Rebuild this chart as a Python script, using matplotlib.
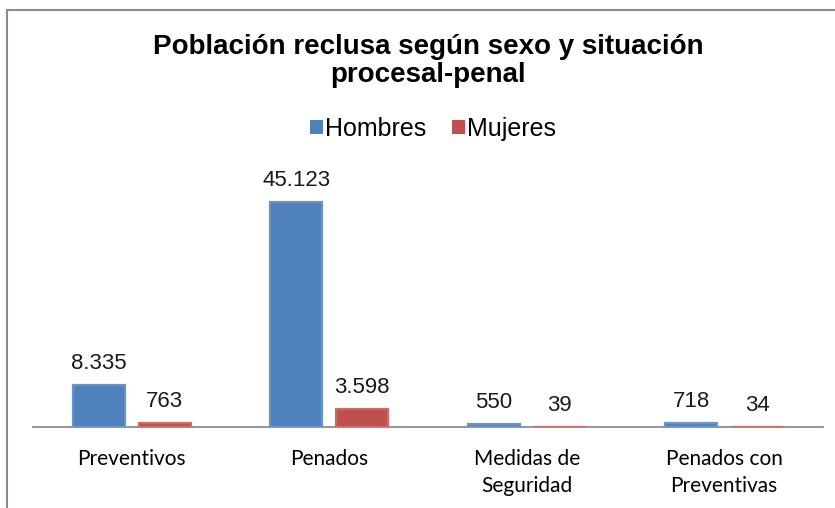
import matplotlib
matplotlib.use("Agg")
import matplotlib.pyplot as plt
from matplotlib.patches import Patch
from matplotlib.lines import Line2D
import numpy as np

categorias = ["Preventivos", "Penados", "Medidas de\nSeguridad", "Penados con\nPreventivas"]
hombres = [8335, 45123, 550, 718]
mujeres = [763, 3598, 39, 34]
series = ["Hombres", "Mujeres"]

azul = "#4F81BD"
rojo = "#C0504D"

def miles(v):
    return f"{v:,}".replace(",", ".")

W, H = 835, 508
fig = plt.figure(figsize=(W / 100, H / 100), dpi=100)
ax = fig.add_axes([33 / W, 81 / H, 790 / W, 249.3 / H])

x = np.arange(len(categorias))
ancho = 0.263
off = 0.1667
b1 = ax.bar(x - off, hombres, ancho, color=azul, edgecolor="#6a93c8", linewidth=1.6, zorder=3)
b2 = ax.bar(x + off, mujeres, ancho, color=rojo, edgecolor="#cc6a67", linewidth=1.6, zorder=3)

etiq = dict(padding=8, fontsize=16, family="Liberation Sans", color="#1a1a1a")
ax.bar_label(b1, labels=[miles(v) for v in hombres], **etiq)
ax.bar_label(b2, labels=[miles(v) for v in mujeres], **etiq)

ax.set_xlim(-0.5, 3.5)
ax.set_ylim(0, 50000)
ax.set_yticks([])
ax.set_xticks(x)
ax.set_xticklabels(categorias, family="Lato", fontsize=15, linespacing=1.45)
ax.tick_params(axis="x", length=0, pad=16)
for s in ["top", "left", "right"]:
    ax.spines[s].set_visible(False)
ax.spines["bottom"].set_color("#8c8c8c")
ax.spines["bottom"].set_linewidth(1.3)
ax.spines["bottom"].set_zorder(2)

fig.text(428 / W, 1 - 61 / H, "Población reclusa según sexo y situación\nprocesal-penal",
         ha="center", va="center", fontsize=20, fontweight="bold",
         family="Liberation Sans", linespacing=1.12)

handles = [Patch(facecolor=azul), Patch(facecolor=rojo)]
fig.legend(handles, series, loc="center", bbox_to_anchor=(433 / W, 1 - 129 / H), ncol=2,
           frameon=False, prop={"family": "Liberation Sans", "size": 18},
           handlelength=0.52, handleheight=0.52, handletextpad=0.1, columnspacing=1.0)

# marco del gráfico
fig.add_artist(Line2D([7 / W, 7 / W], [0, 1 - 10 / H], transform=fig.transFigure,
                      color="#8c8c8c", linewidth=1.5))
fig.add_artist(Line2D([7 / W, 1], [1 - 10 / H, 1 - 10 / H], transform=fig.transFigure,
                      color="#8c8c8c", linewidth=1.5))

fig.savefig("out.png", dpi=100)
